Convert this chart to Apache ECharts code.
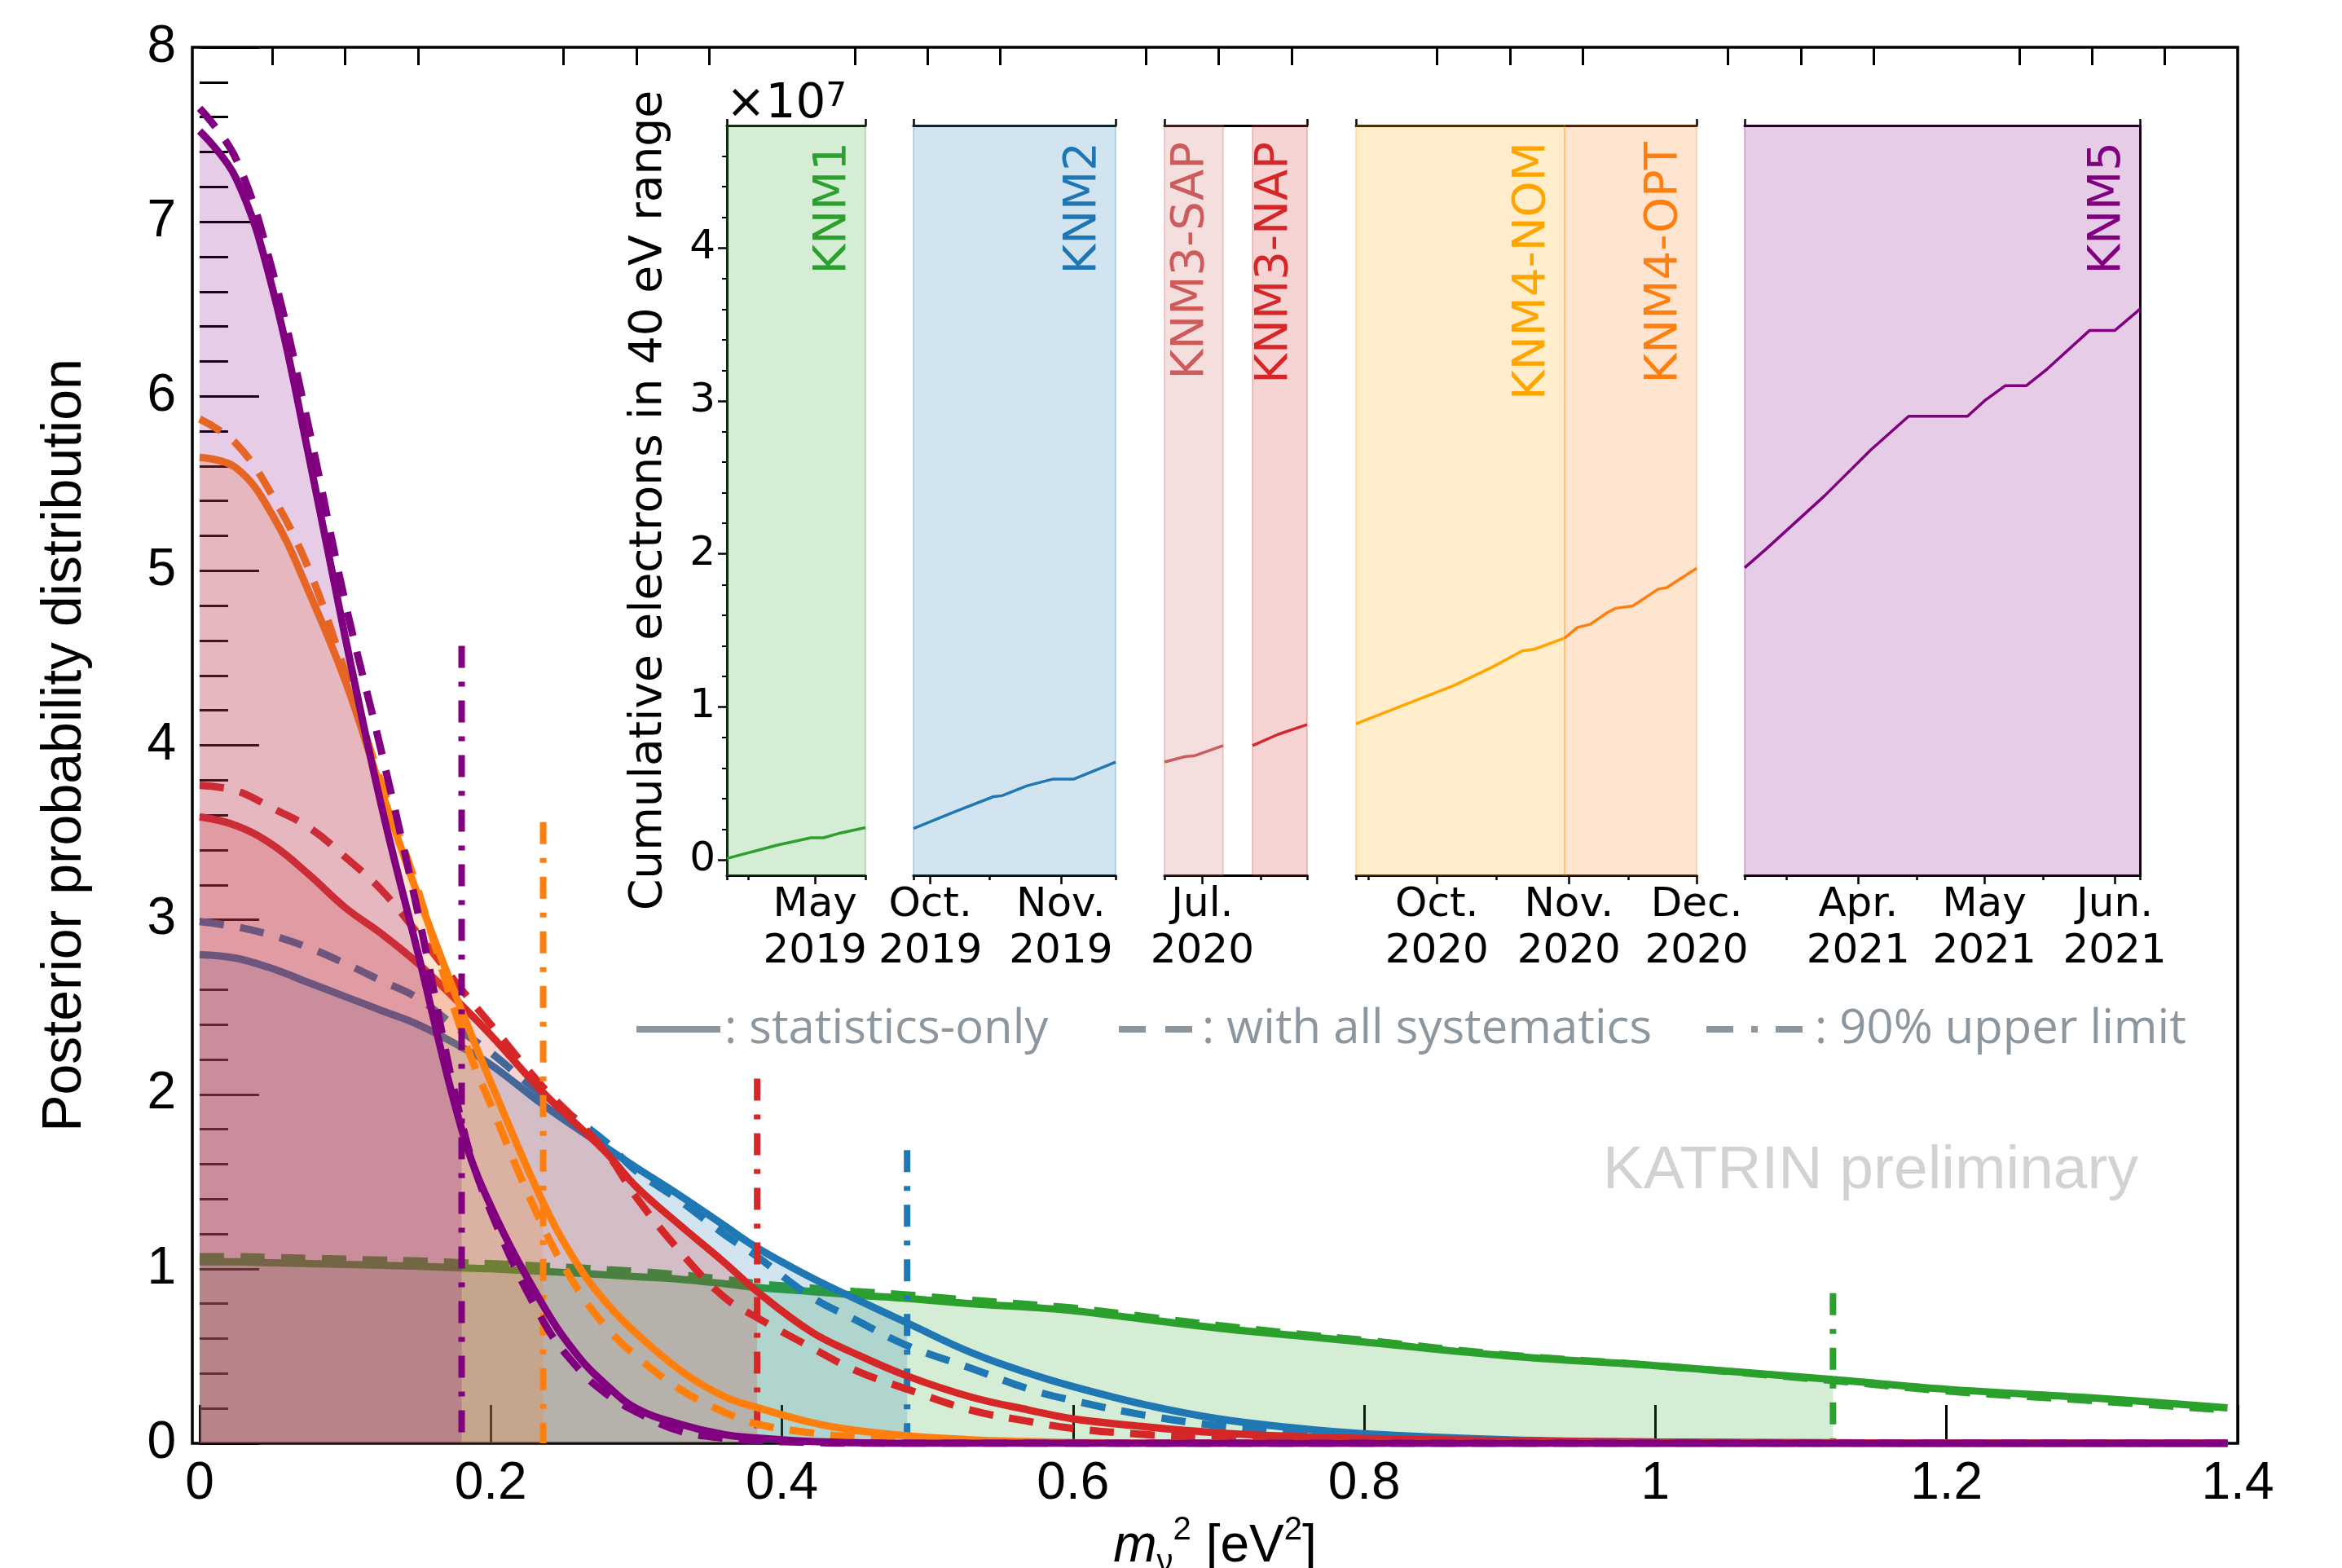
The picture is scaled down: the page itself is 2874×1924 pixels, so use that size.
<!DOCTYPE html>
<html>
<head>
<meta charset="utf-8">
<title>KATRIN m_nu^2 posteriors</title>
<script src="https://cdn.jsdelivr.net/npm/echarts@6.0.0/dist/echarts.min.js"></script>
<style>
  html, body { margin: 0; padding: 0; background: #ffffff; }
  #chart { width: 2874px; height: 1924px; }
</style>
</head>
<body>
<div id="chart"></div>
<script>
// ---- main panel: posterior of m_nu^2 per campaign ----
var mSq = [0, 0.025, 0.05, 0.075, 0.1, 0.125, 0.15, 0.18, 0.2, 0.236,
           0.26, 0.28, 0.3, 0.33, 0.36, 0.383, 0.42, 0.45, 0.486, 0.53,
           0.57, 0.6, 0.65, 0.7, 0.75, 0.8, 0.9, 1.0, 1.122, 1.2,
           1.3, 1.393];

var knm1Stat = [1.04, 1.04, 1.035, 1.03, 1.025, 1.02, 1.015, 1.005, 1.0, 0.985,
                0.975, 0.965, 0.955, 0.94, 0.915, 0.893, 0.87, 0.85, 0.83, 0.80,
                0.78, 0.76, 0.71, 0.66, 0.62, 0.58, 0.50, 0.445, 0.365, 0.31,
                0.26, 0.203];
var knm1Sys  = [1.07, 1.07, 1.065, 1.06, 1.055, 1.05, 1.045, 1.035, 1.03, 1.015,
                1.005, 0.995, 0.985, 0.965, 0.94, 0.915, 0.89, 0.87, 0.85, 0.82,
                0.795, 0.775, 0.725, 0.675, 0.63, 0.59, 0.505, 0.445, 0.36, 0.30,
                0.245, 0.19];
var knm2Stat = [2.80, 2.78, 2.72, 2.64, 2.56, 2.48, 2.40, 2.27, 2.17, 1.94,
                1.80, 1.69, 1.58, 1.42, 1.25, 1.12, 0.95, 0.83, 0.69, 0.52,
                0.40, 0.325, 0.22, 0.14, 0.09, 0.055, 0.02, 0.007, 0.002, 0,
                0, 0];
var knm2Sys  = [2.99, 2.96, 2.91, 2.84, 2.75, 2.65, 2.55, 2.36, 2.24, 1.99,
                1.85, 1.72, 1.56, 1.39, 1.20, 1.07, 0.84, 0.71, 0.56, 0.43,
                0.31, 0.245, 0.16, 0.10, 0.065, 0.04, 0.012, 0.004, 0, 0,
                0, 0];
var knm3Stat = [3.59, 3.54, 3.43, 3.26, 3.07, 2.92, 2.75, 2.51, 2.34, 2.01,
                1.82, 1.66, 1.47, 1.25, 1.04, 0.87, 0.64, 0.515, 0.386, 0.265,
                0.19, 0.14, 0.095, 0.06, 0.04, 0.028, 0.015, 0.008, 0.003, 0,
                0, 0];
var knm3Sys  = [3.77, 3.74, 3.64, 3.53, 3.36, 3.17, 2.92, 2.60, 2.40, 2.04,
                1.84, 1.66, 1.41, 1.10, 0.84, 0.72, 0.55, 0.42, 0.31, 0.19,
                0.125, 0.085, 0.05, 0.03, 0.02, 0.012, 0.005, 0, 0, 0,
                0, 0];
var knm4Stat = [5.65, 5.59, 5.32, 4.88, 4.37, 3.74, 3.14, 2.48, 2.07, 1.38,
                1.02, 0.80, 0.63, 0.42, 0.27, 0.205, 0.12, 0.075, 0.043, 0.02,
                0.01, 0.005, 0, 0, 0, 0, 0, 0, 0, 0,
                0, 0];
var knm4Sys  = [5.87, 5.73, 5.43, 5.01, 4.42, 3.78, 3.17, 2.36, 1.94, 1.24,
                0.88, 0.66, 0.50, 0.31, 0.18, 0.11, 0.06, 0.035, 0.02, 0.01,
                0.005, 0, 0, 0, 0, 0, 0, 0, 0, 0,
                0, 0];
var knm5Stat = [7.52, 7.25, 6.62, 5.66, 4.62, 3.65, 2.81, 1.80, 1.36, 0.79,
                0.50, 0.33, 0.20, 0.11, 0.05, 0.03, 0.01, 0.004, 0, 0,
                0, 0, 0, 0, 0, 0, 0, 0, 0, 0,
                0, 0];
var knm5Sys  = [7.65, 7.36, 6.72, 5.82, 4.82, 3.96, 3.04, 1.84, 1.33, 0.70,
                0.43, 0.28, 0.18, 0.07, 0.03, 0.015, 0.005, 0, 0, 0,
                0, 0, 0, 0, 0, 0, 0, 0, 0, 0,
                0, 0];

// 90% upper limits and how high their dash-dot markers reach
var upperLimit  = [1.122, 0.486, 0.383, 0.236, 0.18];
var limitHeight = [0.86, 1.68, 2.09, 3.56, 4.57];

var mainXTicks = [0, 0.2, 0.4, 0.6, 0.8, 1, 1.2, 1.4];
var mainXMinor = [0.05, 0.1, 0.15, 0.25, 0.3, 0.35, 0.45, 0.5, 0.55, 0.65, 0.7, 0.75,
                  0.85, 0.9, 0.95, 1.05, 1.1, 1.15, 1.25, 1.3, 1.35];

var legendNames = [': statistics-only', ': with all systematics', ': 90% upper limit'];

// ---- inset: cumulative electrons in 40 eV range (x 10^7) ----
var knm1Range = ['2019-04-10', '2019-05-13'];
var knm1Dates = ['2019-04-10', '2019-04-22', '2019-04-30', '2019-05-03', '2019-05-07', '2019-05-13'];
var knm1Counts = [0.01, 0.097, 0.145, 0.145, 0.176, 0.212];

var knm2Range = ['2019-09-27', '2019-11-14'];
var knm2Dates = ['2019-09-27', '2019-10-07', '2019-10-16', '2019-10-18', '2019-10-24', '2019-10-30', '2019-11-04', '2019-11-14'];
var knm2Counts = [0.206, 0.318, 0.414, 0.42, 0.485, 0.528, 0.528, 0.64];

var knm3Range = ['2020-06-22', '2020-07-26'];
var knm3SapRange = ['2020-06-22', '2020-07-06'];
var knm3SapDates = ['2020-06-22', '2020-06-27', '2020-06-29', '2020-07-06'];
var knm3SapCounts = [0.64, 0.676, 0.68, 0.747];
var knm3NapRange = ['2020-07-13', '2020-07-26'];
var knm3NapDates = ['2020-07-13', '2020-07-19', '2020-07-26'];
var knm3NapCounts = [0.747, 0.82, 0.885];

var knm4Range = ['2020-09-12', '2020-12-01'];
var knm4NomRange = ['2020-09-12', '2020-10-31'];
var knm4NomDates = ['2020-09-12', '2020-09-24', '2020-10-05', '2020-10-14', '2020-10-21', '2020-10-24', '2020-10-31'];
var knm4NomCounts = [0.89, 1.02, 1.14, 1.26, 1.366, 1.378, 1.45];
var knm4OptRange = ['2020-10-31', '2020-12-01'];
var knm4OptDates = ['2020-10-31', '2020-11-03', '2020-11-06', '2020-11-10', '2020-11-12', '2020-11-16', '2020-11-22', '2020-11-24', '2020-12-01'];
var knm4OptCounts = [1.45, 1.52, 1.54, 1.616, 1.645, 1.66, 1.77, 1.78, 1.907];

var knm5Range = ['2021-03-05', '2021-06-07'];
var knm5Dates = ['2021-03-05', '2021-03-10', '2021-03-24', '2021-04-04', '2021-04-13', '2021-04-27', '2021-05-01', '2021-05-06', '2021-05-11', '2021-05-16', '2021-05-26', '2021-06-01', '2021-06-07'];
var knm5Counts = [1.91, 2.03, 2.38, 2.68, 2.90, 2.90, 3.00, 3.10, 3.10, 3.21, 3.46, 3.46, 3.60];

// inset tick positions and labels
var knm1Major = ['2019-05-01'], knm1Labels = ['May\n2019'], knm1Minor = ['2019-04-15'];
var knm2Major = ['2019-10-01', '2019-11-01'], knm2Labels = ['Oct.\n2019', 'Nov.\n2019'], knm2Minor = ['2019-10-15'];
var knm3Major = ['2020-07-01'], knm3Labels = ['Jul.\n2020'], knm3Minor = ['2020-07-15'];
var knm4Major = ['2020-10-01', '2020-11-01', '2020-12-01'], knm4Labels = ['Oct.\n2020', 'Nov.\n2020', 'Dec.\n2020'];
var knm4Minor = ['2020-09-15', '2020-10-15', '2020-11-15'];
var knm5Major = ['2021-04-01', '2021-05-01', '2021-06-01'], knm5Labels = ['Apr.\n2021', 'May\n2021', 'Jun.\n2021'];
var knm5Minor = ['2021-03-15', '2021-04-15', '2021-05-15'];
var insetYTicks = [0, 1, 2, 3, 4];
var insetYMinor = [0.2, 0.4, 0.6, 0.8, 1.2, 1.4, 1.6, 1.8, 2.2, 2.4, 2.6, 2.8, 3.2, 3.4, 3.6, 3.8, 4.2, 4.4, 4.6];

// ---- styling / layout ----
var campaignColors = ['#2ca02c', '#1f77b4', '#d62728', '#ff7f0e', '#800080'];
var legendGray = '#8c969f';
var mainFont = 'Liberation Sans';
var insetFont = 'DejaVu Sans';
var panelBox = [[892, 170], [1121, 248], [1429, 175], [1664, 418], [2141, 485]];
var insetTop = 154, insetHeight = 920;

function day(s) {
  var p = s.split('-');
  return Date.UTC(+p[0], +p[1] - 1, +p[2]) / 86400000;
}
function zipDates(ds, vs) {
  return ds.map(function (d, i) { return [day(d), vs[i]]; });
}
function curve(ys, lim) {
  var out = [];
  mSq.forEach(function (x, i) {
    if (lim === undefined || x <= lim + 1e-9) out.push([x, ys[i]]);
  });
  return out;
}
function rgba(hex, a) {
  var n = parseInt(hex.slice(1), 16);
  return 'rgba(' + (n >> 16) + ',' + ((n >> 8) & 255) + ',' + (n & 255) + ',' + a + ')';
}

var chart = echarts.init(document.getElementById('chart'));

// ---------- axes ----------
var grids = [{
  left: 236, top: 58, width: 2510, height: 1713,
  show: true, borderColor: '#000', borderWidth: 3.5, backgroundColor: 'transparent',
  outerBoundsMode: 'none'
}];
panelBox.forEach(function (b) {
  grids.push({ left: b[0], top: insetTop, width: b[1], height: insetHeight, outerBoundsMode: 'none' });
});

var xAxes = [
  {
    type: 'value', gridIndex: 0, min: -0.005, max: 1.4,
    axisLine: { show: false, onZero: false },
    axisTick: { show: true, inside: true, length: 47, customValues: mainXTicks,
                lineStyle: { color: '#000', width: 3 } },
    axisLabel: { customValues: mainXTicks, fontSize: 64, fontFamily: mainFont, color: '#000', margin: 18 },
    splitLine: { show: false },
    name: '{it|m}{sub|ν}{sup|2} [eV{sup|2}]',
    nameLocation: 'middle', nameGap: 84,
    nameTextStyle: {
      fontSize: 64, fontFamily: mainFont, color: '#000', lineHeight: 80,
      rich: {
        it: { fontStyle: 'italic', fontSize: 64, fontFamily: mainFont, color: '#000' },
        sub: { fontSize: 40, fontFamily: mainFont, color: '#000', verticalAlign: 'bottom' },
        sup: { fontSize: 40, fontFamily: mainFont, color: '#000', verticalAlign: 'top' }
      }
    }
  },
  {
    type: 'value', gridIndex: 0, min: -0.005, max: 1.4,
    axisLine: { show: false, onZero: false },
    axisTick: { show: true, inside: true, length: 22, customValues: mainXMinor,
                lineStyle: { color: '#000', width: 3 } },
    axisLabel: { show: false },
    splitLine: { show: false }
  }
];
var yAxes = [{
  type: 'value', gridIndex: 0, min: 0, max: 8, interval: 1,
  axisLine: { show: false },
  axisTick: { show: true, inside: true, length: 73, lineStyle: { color: '#000', width: 3 } },
  minorTick: { show: true, splitNumber: 5, length: 35, lineStyle: { color: '#000', width: 3 } },
  axisLabel: { fontSize: 64, fontFamily: mainFont, color: '#000', margin: 20 },
  splitLine: { show: false },
  name: 'Posterior probability distribution',
  nameLocation: 'middle', nameGap: 122,
  nameTextStyle: { fontSize: 68, fontFamily: mainFont, color: '#000' }
}];

var panels = [
  { range: knm1Range, major: knm1Major, labels: knm1Labels, minor: knm1Minor },
  { range: knm2Range, major: knm2Major, labels: knm2Labels, minor: knm2Minor },
  { range: knm3Range, major: knm3Major, labels: knm3Labels, minor: knm3Minor },
  { range: knm4Range, major: knm4Major, labels: knm4Labels, minor: knm4Minor },
  { range: knm5Range, major: knm5Major, labels: knm5Labels, minor: knm5Minor }
];

panels.forEach(function (p, i) {
  var g = i + 1;
  var lo = day(p.range[0]), hi = day(p.range[1]);
  var majorDays = p.major.map(day);
  var labelOf = {};
  majorDays.forEach(function (d, k) { labelOf[d] = p.labels[k]; });
  var blackLine = { color: '#000', width: 3 };
  xAxes.push({
    type: 'value', gridIndex: g, min: lo, max: hi, position: 'bottom',
    axisLine: { show: true, onZero: false, lineStyle: blackLine },
    axisTick: { show: true, length: 11, customValues: majorDays, lineStyle: { color: '#000', width: 2.5 } },
    axisLabel: {
      customValues: majorDays, fontSize: 50, lineHeight: 57, fontFamily: insetFont, color: '#000', margin: 9,
      formatter: function (v) { return labelOf[v] !== undefined ? labelOf[v] : ''; }
    },
    splitLine: { show: false }
  });
  xAxes.push({
    type: 'value', gridIndex: g, min: lo, max: hi, position: 'bottom',
    axisLine: { show: false, onZero: false },
    axisTick: { show: true, length: 6, customValues: p.minor.map(day).concat([lo, hi]),
                lineStyle: { color: '#000', width: 2.5 } },
    axisLabel: { show: false },
    splitLine: { show: false }
  });
  xAxes.push({
    type: 'value', gridIndex: g, min: lo, max: hi, position: 'top',
    axisLine: { show: true, onZero: false, lineStyle: blackLine },
    axisTick: { show: true, length: 8, customValues: [lo, hi], lineStyle: { color: '#000', width: 2.5 } },
    axisLabel: { show: false },
    splitLine: { show: false }
  });

  if (i === 0) {
    yAxes.push({
      type: 'value', gridIndex: g, min: -0.1, max: 4.8, position: 'left',
      axisLine: { show: true, onZero: false, lineStyle: blackLine },
      axisTick: { show: true, length: 11, customValues: insetYTicks, lineStyle: { color: '#000', width: 2.5 } },
      axisLabel: { customValues: insetYTicks, fontSize: 50, fontFamily: insetFont, color: '#000', margin: 14 },
      splitLine: { show: false },
      name: 'Cumulative electrons in 40 eV range',
      nameLocation: 'middle', nameGap: 68,
      nameTextStyle: { fontSize: 55, fontFamily: insetFont, color: '#000' }
    });
    yAxes.push({
      type: 'value', gridIndex: g, min: -0.1, max: 4.8, position: 'left',
      axisLine: { show: false, onZero: false },
      axisTick: { show: true, length: 6, customValues: insetYMinor, lineStyle: { color: '#000', width: 2 } },
      axisLabel: { show: false },
      splitLine: { show: false }
    });
  } else {
    yAxes.push({ type: 'value', gridIndex: g, min: -0.1, max: 4.8, show: false });
    if (i === panels.length - 1) {
      yAxes.push({
        type: 'value', gridIndex: g, min: -0.1, max: 4.8, position: 'right',
        axisLine: { show: true, onZero: false, lineStyle: blackLine },
        axisTick: { show: false }, axisLabel: { show: false }, splitLine: { show: false }
      });
    } else {
      yAxes.push({ type: 'value', gridIndex: g, min: -0.1, max: 4.8, show: false });
    }
  }
});

// ---------- series ----------
var series = [];
var campaigns = [
  { stat: knm1Stat, sys: knm1Sys },
  { stat: knm2Stat, sys: knm2Sys },
  { stat: knm3Stat, sys: knm3Sys },
  { stat: knm4Stat, sys: knm4Sys },
  { stat: knm5Stat, sys: knm5Sys }
];
var sysDash = [30, 20];
var limitDash = [27, 17, 6, 17];

// each campaign gets its own z layer so later fills veil earlier lines
campaigns.forEach(function (c, i) {
  var col = campaignColors[i];
  var common = { type: 'line', xAxisIndex: 0, yAxisIndex: 0, symbol: 'none', smooth: 0.4,
                 silent: true, z: 2 + i };
  series.push(Object.assign({}, common, {
    data: curve(c.sys), lineStyle: { color: col, width: 9, type: sysDash }
  }));
  series.push(Object.assign({}, common, {
    data: curve(c.stat), lineStyle: { color: col, width: 9 }
  }));
  series.push(Object.assign({}, common, {
    data: curve(c.stat, upperLimit[i]), lineStyle: { width: 0 },
    areaStyle: { color: rgba(col, 0.2), opacity: 1, origin: 'start' }
  }));
  series.push({
    type: 'line', xAxisIndex: 0, yAxisIndex: 0, symbol: 'none', silent: true, z: 2 + i,
    data: [[upperLimit[i], limitHeight[i]], [upperLimit[i], 0]],
    lineStyle: { color: col, width: 8, type: limitDash }
  });
});

// legend-only entries (gray line styles)
var legendTypes = ['solid', [33, 24], [33, 22, 8, 22]];
legendNames.forEach(function (n, k) {
  series.push({
    type: 'line', name: n, xAxisIndex: 0, yAxisIndex: 0, symbol: 'none', data: [],
    itemStyle: { color: legendGray },
    lineStyle: { color: legendGray, width: 8, type: legendTypes[k] }
  });
});

// inset lines with shaded run periods
function insetLine(axisX, axisY, data, col, range) {
  return {
    type: 'line', xAxisIndex: axisX, yAxisIndex: axisY, symbol: 'none', silent: true,
    data: data, lineStyle: { color: col, width: 3.5 },
    markArea: {
      silent: true, label: { show: false },
      itemStyle: { color: rgba(col, 0.2), borderColor: rgba(col, 0.25), borderWidth: 2 },
      data: [[{ xAxis: day(range[0]) }, { xAxis: day(range[1]) }]]
    }
  };
}
var sapColor = '#cd5c5c', nomColor = '#ffa500';
series.push(insetLine(2, 1, zipDates(knm1Dates, knm1Counts), '#2ca02c', knm1Range));
series.push(insetLine(5, 3, zipDates(knm2Dates, knm2Counts), '#1f77b4', knm2Range));
series.push(insetLine(8, 5, zipDates(knm3SapDates, knm3SapCounts), sapColor, knm3SapRange));
series.push(insetLine(8, 5, zipDates(knm3NapDates, knm3NapCounts), '#d62728', knm3NapRange));
series.push(insetLine(11, 7, zipDates(knm4NomDates, knm4NomCounts), nomColor, knm4NomRange));
series.push(insetLine(11, 7, zipDates(knm4OptDates, knm4OptCounts), '#ff7f0e', knm4OptRange));
series.push(insetLine(14, 9, zipDates(knm5Dates, knm5Counts), '#800080', knm5Range));

// ---------- legends ----------
var legendLeft = [777, 1369, 2090];
var legendIconW = [103, 97, 128];
var legends = legendNames.map(function (n, k) {
  return {
    data: [n], left: legendLeft[k], top: 1234, padding: 0, itemWidth: legendIconW[k], itemHeight: 14,
    selectedMode: false,
    itemStyle: { color: 'rgba(0,0,0,0)', borderColor: 'rgba(0,0,0,0)', borderWidth: 0 },
    lineStyle: { width: 'inherit', type: 'inherit' },
    textStyle: { color: legendGray, fontSize: 58, fontFamily: 'Open Sans' }
  };
});

chart.setOption({
  animation: false,
  backgroundColor: '#ffffff',
  grid: grids,
  xAxis: xAxes,
  yAxis: yAxes,
  legend: legends,
  series: series
});

// ---------- texts: multiplier, watermark, run labels ----------
var runLabels = [
  { text: 'KNM1', color: '#2ca02c', grid: 1, end: knm1Range[1] },
  { text: 'KNM2', color: '#1f77b4', grid: 2, end: knm2Range[1] },
  { text: 'KNM3-SAP', color: sapColor, grid: 3, end: knm3SapRange[1] },
  { text: 'KNM3-NAP', color: '#d62728', grid: 3, end: knm3NapRange[1] },
  { text: 'KNM4-NOM', color: nomColor, grid: 4, end: knm4NomRange[1] },
  { text: 'KNM4-OPT', color: '#ff7f0e', grid: 4, end: knm4OptRange[1] },
  { text: 'KNM5', color: '#800080', grid: 5, end: knm5Range[1] }
];
var graphics = runLabels.map(function (r) {
  var p = chart.convertToPixel({ gridIndex: r.grid }, [day(r.end), 4.8]);
  return {
    type: 'text', x: p[0] - 12, y: p[1] + 20, rotation: Math.PI / 2, silent: true,
    style: { text: r.text, fill: r.color, fontSize: 56, fontFamily: insetFont,
             align: 'right', verticalAlign: 'bottom' }
  };
});
graphics.push({
  type: 'text', x: 891, y: 158, silent: true,
  style: {
    text: '×10{s|7}', fill: '#000', fontSize: 58, fontFamily: insetFont,
    align: 'left', verticalAlign: 'bottom',
    rich: { s: { fontSize: 40, fontFamily: insetFont, fill: '#000', verticalAlign: 'top' } }
  }
});
graphics.push({
  type: 'text', x: 1967, y: 1437, silent: true,
  style: { text: 'KATRIN preliminary', fill: '#d2d2d2', fontSize: 75, fontFamily: mainFont,
           align: 'left', verticalAlign: 'middle' }
});
chart.setOption({ graphic: graphics });
</script>
</body>
</html>
